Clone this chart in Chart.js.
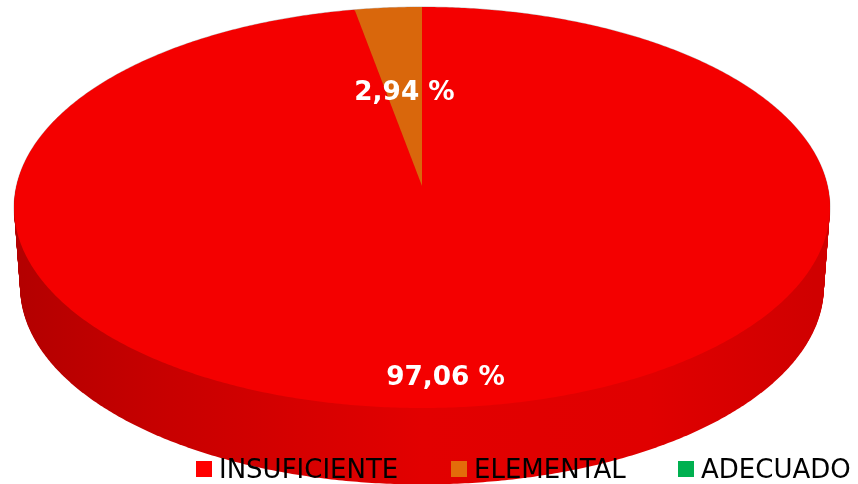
<!DOCTYPE html>
<html lang="es">
<head>
<meta charset="UTF-8" />
<title>Niveles de logro</title>
<script src="https://cdn.jsdelivr.net/npm/chart.js"></script>
<style>
  html, body { margin: 0; padding: 0; background: #fff; overflow: hidden; }
  #wrap { position: relative; width: 858px; height: 484px; overflow: hidden; }
  .item {
    position: absolute; top: 450px; height: 38px;
    display: flex; align-items: center;
    font: 26px "DejaVu Sans", sans-serif; color: #000; white-space: nowrap;
  }
  .swatch { width: 16px; height: 16px; margin-right: 7px; }
</style>
</head>
<body>
<div id="wrap">
  <canvas id="pie" width="858" height="484"></canvas>
</div>
<script>
  const categories = ['INSUFICIENTE', 'ELEMENTAL', 'ADECUADO'];
  const percentages = [97.06, 2.94, 0];
  const faceColors = ['#f40000', '#d9670c', '#00a048'];
  const legendColors = ['#ff0000', '#e36c0a', '#00b050'];
  const percentLabels = ['97,06 %', '2,94 %', ''];

  // where the office-style 3D view puts the label text
  const labelSpots = [[445.5, 378], [404.5, 93], null];
  const legendLeft = [196, 451, 678];

  // perspective view of the pie disc: centre, half sizes, tilt strength
  const view = { cx: 422, cy: 186, a: 405.6, b: 198.2, k: 0.1072 };
  const depth = 79.8;   // how far the bottom rim centre sits below the top one
  const bottomScale = 0.985;

  function project(angle, t) {
    const u = Math.cos(angle), v = Math.sin(angle);
    const w = 1 - view.k * v;
    const s = 1 + (bottomScale - 1) * t;
    return [view.cx + s * view.a * u / w, view.cy + depth * t + s * view.b * v / w];
  }

  function rimPath(ctx, start, end, t, closeToCentre) {
    const steps = Math.max(2, Math.ceil((end - start) * 120));
    ctx.beginPath();
    if (closeToCentre) ctx.moveTo(view.cx, view.cy + depth * t);
    for (let i = 0; i <= steps; i++) {
      const p = project(start + (end - start) * i / steps, t);
      ctx.lineTo(p[0], p[1]);
    }
    ctx.closePath();
  }

  const pie3d = {
    id: 'pie3d',
    beforeDraw(chart) {
      const ctx = chart.ctx;
      const arcs = chart.getDatasetMeta(0).data;
      ctx.save();

      const wall = ctx.createLinearGradient(14, 0, 830, 0);
      wall.addColorStop(0.01, '#b40000');
      wall.addColorStop(0.17, '#c60000');
      wall.addColorStop(0.35, '#d60000');
      wall.addColorStop(0.5, '#e20000');
      wall.addColorStop(0.78, '#e00000');
      wall.addColorStop(0.98, '#d00000');

      // faint grey halo round the solid
      ctx.strokeStyle = 'rgba(90,90,90,0.35)';
      ctx.lineWidth = 1;
      rimPath(ctx, 0, Math.PI * 2, 0, false);
      ctx.stroke();

      // side wall, stacked from bottom rim up to top rim
      ctx.fillStyle = wall;
      for (let d = depth; d > 0; d -= 1) {
        rimPath(ctx, 0, Math.PI * 2, d / depth, false);
        ctx.fill();
      }

      // top face, one sector per arc element
      arcs.forEach(arc => {
        const p = arc.getProps(['startAngle', 'endAngle']);
        if (p.endAngle - p.startAngle <= 0) return;
        ctx.fillStyle = arc.options.backgroundColor;
        rimPath(ctx, p.startAngle, p.endAngle, 0, true);
        ctx.fill();
      });

      ctx.fillStyle = '#fff';
      ctx.font = 'bold 26.3px "DejaVu Sans", sans-serif';
      ctx.textAlign = 'center';
      ctx.textBaseline = 'middle';
      percentLabels.forEach((txt, i) => {
        if (labelSpots[i]) ctx.fillText(txt, labelSpots[i][0], labelSpots[i][1]);
      });
      ctx.restore();
    },
    beforeDatasetsDraw() {
      return false;   // sectors are already painted in 3D above
    }
  };

  new Chart(document.getElementById('pie').getContext('2d'), {
    type: 'pie',
    data: {
      labels: categories,
      datasets: [{ data: percentages, backgroundColor: faceColors, borderWidth: 0 }]
    },
    options: {
      responsive: false,
      animation: false,
      plugins: { legend: { display: false }, tooltip: { enabled: false } }
    },
    plugins: [pie3d]
  });

  const wrap = document.getElementById('wrap');
  categories.forEach((name, i) => {
    const item = document.createElement('div');
    item.className = 'item';
    item.style.left = legendLeft[i] + 'px';
    const box = document.createElement('span');
    box.className = 'swatch';
    box.style.background = legendColors[i];
    const label = document.createElement('span');
    label.textContent = name;
    item.appendChild(box);
    item.appendChild(label);
    wrap.appendChild(item);
  });
</script>
</body>
</html>
